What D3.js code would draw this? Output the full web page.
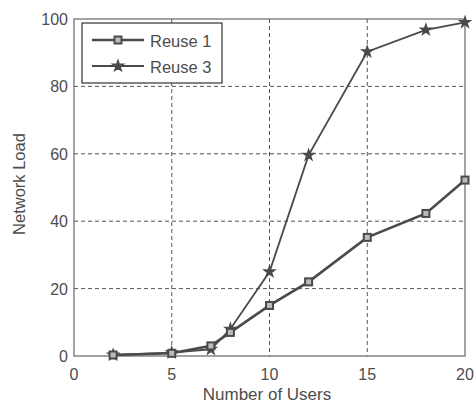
<!DOCTYPE html>
<html>
<head>
<meta charset="utf-8">
<script src="https://cdn.jsdelivr.net/npm/d3@7"></script>
<style>
  body { margin: 0; background: #fff; }
  text { font-family: "Liberation Sans", Arial, sans-serif; fill: #4d4d4d; }
</style>
</head>
<body>
<svg id="chart" width="476" height="405"></svg>
<script>
// data
const users = [2, 5, 7, 8, 10, 12, 15, 18, 20];
const reuse1 = [0.3, 0.8, 3, 7, 15, 22, 35.2, 42.3, 52.2];
const reuse3 = [0.3, 1, 2, 8, 25, 59.6, 90.3, 96.8, 99];
const xTicks = [0, 5, 10, 15, 20];
const yTicks = [0, 20, 40, 60, 80, 100];
const seriesNames = ["Reuse 1", "Reuse 3"];

const svg = d3.select("#chart");
const plotL = 74, plotR = 465, plotT = 19, plotB = 356;
const lineColor = "#4a4a4a";

const x = d3.scaleLinear().domain([0, 20]).range([plotL, plotR]);
const y = d3.scaleLinear().domain([0, 100]).range([plotB, plotT]);

// grid
svg.append("g").selectAll("line")
    .data(xTicks.slice(1, -1))
    .enter().append("line")
    .attr("x1", d => x(d)).attr("x2", d => x(d))
    .attr("y1", plotT).attr("y2", plotB)
    .attr("stroke", "#555").attr("stroke-width", 1)
    .attr("stroke-dasharray", "4,3");

svg.append("g").selectAll("line")
    .data(yTicks.slice(1, -1))
    .enter().append("line")
    .attr("x1", plotL).attr("x2", plotR)
    .attr("y1", d => y(d)).attr("y2", d => y(d))
    .attr("stroke", "#555").attr("stroke-width", 1)
    .attr("stroke-dasharray", "4,3");

// frame
svg.append("rect")
    .attr("x", plotL).attr("y", plotT)
    .attr("width", plotR - plotL).attr("height", plotB - plotT)
    .attr("fill", "none").attr("stroke", "#666").attr("stroke-width", 1.2);

// tick labels
svg.append("g").selectAll("text")
    .data(xTicks)
    .enter().append("text")
    .attr("x", d => x(d)).attr("y", 380)
    .attr("text-anchor", "middle")
    .attr("font-size", 16)
    .text(d => d);

svg.append("g").selectAll("text")
    .data(yTicks)
    .enter().append("text")
    .attr("x", 68).attr("y", d => y(d) + 6)
    .attr("text-anchor", "end")
    .attr("font-size", 16)
    .text(d => d);

// axis titles
svg.append("text")
    .attr("x", 267).attr("y", 400)
    .attr("text-anchor", "middle")
    .attr("font-size", 17)
    .text("Number of Users");

svg.append("text")
    .attr("transform", "translate(25, 184) rotate(-90)")
    .attr("text-anchor", "middle")
    .attr("font-size", 16.5)
    .text("Network Load");

// lines
const line = d3.line().x(d => x(d[0])).y(d => y(d[1]));
const pts1 = users.map((u, i) => [u, reuse1[i]]);
const pts3 = users.map((u, i) => [u, reuse3[i]]);

svg.append("path").attr("d", line(pts3))
    .attr("fill", "none").attr("stroke", lineColor).attr("stroke-width", 1.8);
svg.append("path").attr("d", line(pts1))
    .attr("fill", "none").attr("stroke", lineColor).attr("stroke-width", 2.6);

const star = d3.symbol().type(d3.symbolStar).size(38);

function drawSquare(g, cx, cy) {
    g.append("rect")
        .attr("x", cx - 3.5).attr("y", cy - 3.5)
        .attr("width", 7).attr("height", 7)
        .attr("fill", "#bbb").attr("stroke", lineColor).attr("stroke-width", 2);
}
function drawStar(g, cx, cy) {
    g.append("path")
        .attr("d", star())
        .attr("transform", `translate(${cx},${cy})`)
        .attr("fill", lineColor).attr("stroke", lineColor).attr("stroke-width", 1.2);
}

const marks = svg.append("g");
pts3.forEach(p => drawStar(marks, x(p[0]), y(p[1])));
pts1.forEach(p => drawSquare(marks, x(p[0]), y(p[1])));

// legend
const lg = svg.append("g");
lg.append("rect")
    .attr("x", 82).attr("y", 23).attr("width", 140).attr("height", 60)
    .attr("fill", "#fff").attr("stroke", "#333").attr("stroke-width", 1.2);

seriesNames.forEach((name, i) => {
    const ly = 40 + i * 26;
    lg.append("line")
        .attr("x1", 92).attr("x2", 144).attr("y1", ly).attr("y2", ly)
        .attr("stroke", lineColor).attr("stroke-width", i === 0 ? 2.6 : 2);
    if (i === 0) drawSquare(lg, 118, ly); else drawStar(lg, 118, ly);
    lg.append("text")
        .attr("x", 150).attr("y", ly + 7)
        .attr("font-size", 16.5)
        .text(name);
});
</script>
</body>
</html>
